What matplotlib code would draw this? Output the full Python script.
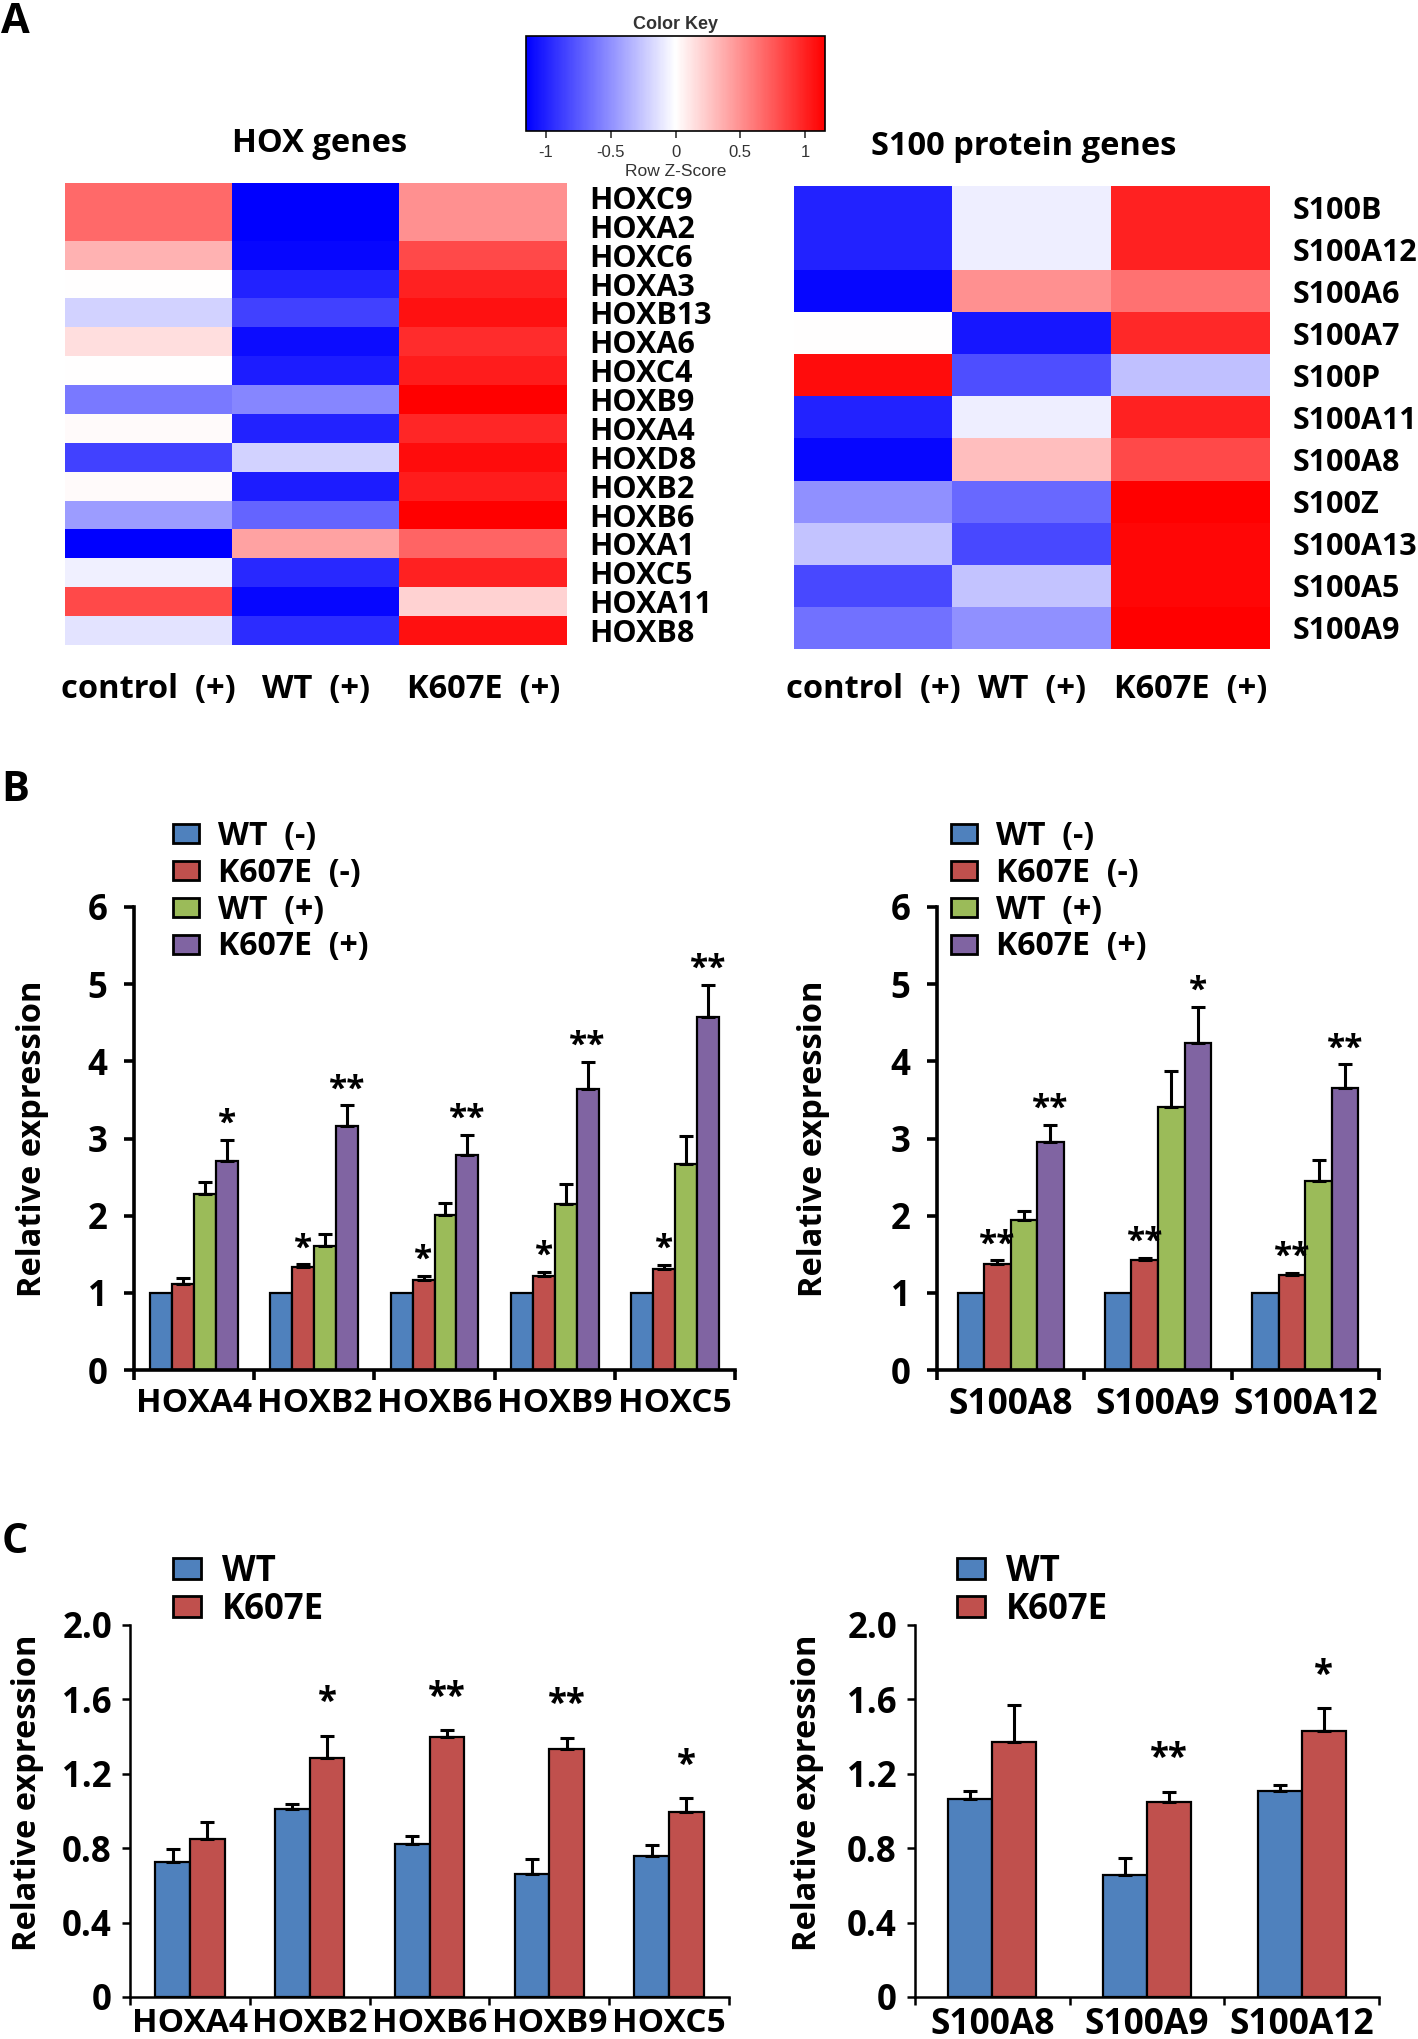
import numpy as np
import matplotlib
matplotlib.use("Agg")
import matplotlib.pyplot as plt
from matplotlib.colors import LinearSegmentedColormap, Normalize
from matplotlib.cm import ScalarMappable
from matplotlib.patches import Patch

W, H = 1418, 2039
plt.rcParams['font.family'] = ['Open Sans', 'DejaVu Sans']
plt.rcParams['font.weight'] = 'bold'
plt.rcParams['axes.labelweight'] = 'bold'

# ---------------- data: heatmaps (row z-scores) ----------------
hm_columns = ['control  (+)', 'WT  (+)', 'K607E  (+)']
hox_genes = ['HOXC9', 'HOXA2', 'HOXC6', 'HOXA3', 'HOXB13', 'HOXA6', 'HOXC4', 'HOXB9',
             'HOXA4', 'HOXD8', 'HOXB2', 'HOXB6', 'HOXA1', 'HOXC5', 'HOXA11', 'HOXB8']
hox_control = [0.67, 0.67, 0.35, 0.00, -0.20, 0.15, 0.00, -0.60, 0.02, -0.85, 0.02, -0.45, -1.15, -0.07, 0.82, -0.12]
hox_wt = [-1.15, -1.15, -1.12, -1.00, -0.85, -1.10, -1.02, -0.55, -1.00, -0.20, -1.02, -0.70, 0.42, -0.97, -1.12, -0.95]
hox_k607e = [0.50, 0.50, 0.82, 1.00, 1.07, 0.95, 1.02, 1.15, 0.98, 1.10, 1.02, 1.15, 0.70, 1.00, 0.20, 1.08]

s100_genes = ['S100B', 'S100A12', 'S100A6', 'S100A7', 'S100P', 'S100A11', 'S100A8', 'S100Z',
              'S100A13', 'S100A5', 'S100A9']
s100_control = [-1.00, -1.00, -1.12, 0.00, 1.10, -1.00, -1.12, -0.50, -0.27, -0.83, -0.64]
s100_wt = [-0.08, -0.08, 0.50, -1.05, -0.80, -0.08, 0.29, -0.68, -0.83, -0.27, -0.50]
s100_k607e = [1.00, 1.00, 0.64, 0.97, -0.28, 1.00, 0.82, 1.15, 1.12, 1.12, 1.15]

key_ticks = [-1, -0.5, 0, 0.5, 1]
key_ticklabels = ['-1', '-0.5', '0', '0.5', '1']

# ---------------- data: panel B ----------------
b_series = ['WT  (-)', 'K607E  (-)', 'WT  (+)', 'K607E  (+)']
b_colors = ['#4F81BD', '#C0504D', '#9BBB59', '#8064A2']

b_hox_genes = ['HOXA4', 'HOXB2', 'HOXB6', 'HOXB9', 'HOXC5']
b_hox_wt_minus = [1.00, 1.00, 1.00, 1.00, 1.00]
b_hox_k_minus = [1.12, 1.34, 1.16, 1.22, 1.31]
b_hox_wt_plus = [2.28, 1.61, 2.01, 2.15, 2.67]
b_hox_k_plus = [2.71, 3.16, 2.79, 3.64, 4.58]
b_hox_k_minus_err = [0.07, 0.03, 0.06, 0.05, 0.05]
b_hox_wt_plus_err = [0.15, 0.15, 0.15, 0.26, 0.36]
b_hox_k_plus_err = [0.27, 0.27, 0.26, 0.35, 0.41]
b_hox_k_minus_sig = ['', '*', '*', '*', '*']
b_hox_k_plus_sig = ['*', '**', '**', '**', '**']

b_s100_genes = ['S100A8', 'S100A9', 'S100A12']
b_s100_wt_minus = [1.00, 1.00, 1.00]
b_s100_k_minus = [1.38, 1.42, 1.23]
b_s100_wt_plus = [1.95, 3.41, 2.45]
b_s100_k_plus = [2.96, 4.24, 3.66]
b_s100_k_minus_err = [0.04, 0.03, 0.03]
b_s100_wt_plus_err = [0.11, 0.47, 0.27]
b_s100_k_plus_err = [0.22, 0.47, 0.30]
b_s100_k_minus_sig = ['**', '**', '**']
b_s100_k_plus_sig = ['**', '*', '**']

b_yticks = [0, 1, 2, 3, 4, 5, 6]
b_yticklabels = ['0', '1', '2', '3', '4', '5', '6']

# ---------------- data: panel C ----------------
c_series = ['WT', 'K607E']
c_colors = ['#4F81BD', '#C0504D']
c_hox_genes = ['HOXA4', 'HOXB2', 'HOXB6', 'HOXB9', 'HOXC5']
c_hox_wt = [0.726, 1.012, 0.821, 0.659, 0.758]
c_hox_wt_err = [0.068, 0.026, 0.045, 0.081, 0.057]
c_hox_k = [0.851, 1.287, 1.398, 1.332, 0.996]
c_hox_k_err = [0.090, 0.116, 0.037, 0.062, 0.072]
c_hox_sig = ['', '*', '**', '**', '*']

c_s100_genes = ['S100A8', 'S100A9', 'S100A12']
c_s100_wt = [1.065, 0.655, 1.110]
c_s100_wt_err = [0.045, 0.090, 0.032]
c_s100_k = [1.373, 1.047, 1.429]
c_s100_k_err = [0.198, 0.057, 0.124]
c_s100_sig = ['', '**', '*']

c_yticks = [0, 0.4, 0.8, 1.2, 1.6, 2.0]
c_yticklabels = ['0', '0.4', '0.8', '1.2', '1.6', '2.0']

# ---------------- helpers ----------------
fig = plt.figure(figsize=(W / 100, H / 100), dpi=100)


def px_axes(x0, y0, x1, y1):
    return fig.add_axes([x0 / W, 1 - y1 / H, (x1 - x0) / W, (y1 - y0) / H])


cmap = LinearSegmentedColormap.from_list('bluered', ['#0000FF', '#FFFFFF', '#FF0000'])
norm = Normalize(vmin=-1.155, vmax=1.155)


def heatmap(rect, genes, cols, title, title_x, xpad):
    ax = px_axes(*rect)
    mat = np.column_stack(cols)
    ax.imshow(mat, cmap=cmap, norm=norm, aspect='auto', interpolation='nearest')
    ax.yaxis.tick_right()
    ax.set_yticks(np.arange(len(genes)))
    ax.set_yticklabels(genes, fontsize=22, fontweight='bold')
    ax.set_xticks(np.arange(len(hm_columns)))
    ax.set_xticklabels(hm_columns, fontsize=23.5, fontweight='bold')
    ax.tick_params(axis='y', length=0, pad=16)
    ax.tick_params(axis='x', length=0, pad=xpad)
    for s in ax.spines.values():
        s.set_visible(False)
    x0, _, x1, _ = rect
    ax.set_title(title, fontsize=23.5, fontweight='bold', pad=22, x=(title_x - x0) / (x1 - x0))
    return ax


def style_bar_axes(ax, cats, ymax, yticks, ytl, lw, rect, ylab_x, ylab_y, ypad, xpad, tick_len, xfs):
    n = len(cats)
    ax.set_xlim(0, n)
    ax.set_ylim(0, ymax)
    for s in ['top', 'right']:
        ax.spines[s].set_visible(False)
    for s in ['left', 'bottom']:
        ax.spines[s].set_linewidth(lw)
    ax.set_xticks(np.arange(n + 1))
    ax.set_xticklabels([''] * (n + 1))
    ax.set_xticks(np.arange(n) + 0.5, minor=True)
    ax.set_xticklabels(cats, minor=True, fontsize=xfs, fontweight='bold')
    ax.tick_params(axis='x', which='major', direction='out', length=tick_len, width=lw)
    ax.tick_params(axis='x', which='minor', length=0, pad=xpad)
    ax.set_yticks(yticks)
    ax.set_yticklabels(ytl, fontsize=25, fontweight='bold')
    ax.tick_params(axis='y', direction='out', length=tick_len, width=lw, pad=ypad)
    ax.set_ylabel('Relative expression', fontsize=23.5, fontweight='bold')
    x0, y0, x1, y1 = rect
    ax.yaxis.set_label_coords((ylab_x - x0) / (x1 - x0), ylab_y)
    ax.yaxis.label.set_verticalalignment('center')


def draw_bars(ax, series, errs, colors, width, lw):
    n = len(series)
    offsets = (np.arange(n) - (n - 1) / 2) * width
    tops = []
    for i, (vals, err, col) in enumerate(zip(series, errs, colors)):
        x = np.arange(len(vals)) + 0.5 + offsets[i]
        ax.bar(x, vals, width=width, color=col, edgecolor='black', linewidth=lw, zorder=2)
        if err is not None:
            ax.errorbar(x, vals, yerr=[np.zeros(len(vals)), err], fmt='none', ecolor='black',
                        elinewidth=2.2, capsize=5, capthick=2.2, zorder=3)
            tops.append((x, np.array(vals) + np.array(err)))
        else:
            tops.append((x, np.array(vals)))
    return tops


def stars(ax, x, top, sig, off, fs):
    for xi, t, s in zip(x, top, sig):
        if s:
            ax.annotate(s, xy=(xi, t), xytext=(0, off), textcoords='offset points',
                        ha='center', va='baseline', fontsize=fs, fontweight='bold')


def legend(labels, colors, x, y, fs, spacing):
    handles = [Patch(facecolor=c, edgecolor='black', linewidth=2) for c in colors]
    fig.legend(handles, labels, loc='upper left', bbox_to_anchor=(x / W, 1 - y / H),
               bbox_transform=fig.transFigure, frameon=False,
               handlelength=0.8, handleheight=0.55, handletextpad=0.6,
               labelspacing=spacing, borderpad=0, borderaxespad=0,
               prop={'weight': 'bold', 'size': fs})


# ---------------- panel A ----------------
fig.text(0.001, 1 - 2 / H, 'A', fontsize=30, fontweight='bold', ha='left', va='top')

heatmap((65, 183, 567, 645), hox_genes, [hox_control, hox_wt, hox_k607e], 'HOX genes', 320, 20)
heatmap((794, 186, 1270, 649), s100_genes, [s100_control, s100_wt, s100_k607e], 'S100 protein genes', 1024, 17)

kax = px_axes(526, 36, 825, 131)
cb = fig.colorbar(ScalarMappable(norm=norm, cmap=cmap), cax=kax, orientation='horizontal')
cb.set_ticks(key_ticks)
cb.set_ticklabels(key_ticklabels)
cb.ax.tick_params(labelsize=12, length=5, width=1.2, colors='#333333', pad=5)
for t in cb.ax.get_xticklabels():
    t.set_fontfamily(['Liberation Sans', 'DejaVu Sans'])
    t.set_fontweight('normal')
cb.outline.set_linewidth(1.2)
cb.set_label('Row Z-Score', fontsize=12.5, fontweight='normal', color='#333333', labelpad=3,
             family=['Liberation Sans', 'DejaVu Sans'])
cb.ax.set_title('Color Key', fontsize=13, fontweight='bold', color='#333333', pad=5,
                family=['Liberation Sans', 'DejaVu Sans'])

# ---------------- panel B ----------------
fig.text(0.001, 1 - 770 / H, 'B', fontsize=30, fontweight='bold', ha='left', va='top')

rect = (134, 907, 735, 1370)
ax = px_axes(*rect)
style_bar_axes(ax, b_hox_genes, 6, b_yticks, b_yticklabels, 2.6, rect, 33, 0.5, 12, 12, 7, 24)
tops = draw_bars(ax, [b_hox_wt_minus, b_hox_k_minus, b_hox_wt_plus, b_hox_k_plus],
                 [None, b_hox_k_minus_err, b_hox_wt_plus_err, b_hox_k_plus_err], b_colors, 0.183, 1.6)
stars(ax, tops[1][0], tops[1][1], b_hox_k_minus_sig, 5, 24)
stars(ax, tops[3][0], tops[3][1], b_hox_k_plus_sig, 5, 24)
legend(b_series, b_colors, 173, 820, 23, 0.12)

rect = (937, 907, 1379, 1370)
ax = px_axes(*rect)
style_bar_axes(ax, b_s100_genes, 6, b_yticks, b_yticklabels, 2.6, rect, 814, 0.5, 12, 12, 7, 25.5)
tops = draw_bars(ax, [b_s100_wt_minus, b_s100_k_minus, b_s100_wt_plus, b_s100_k_plus],
                 [None, b_s100_k_minus_err, b_s100_wt_plus_err, b_s100_k_plus_err], b_colors, 0.18, 1.6)
stars(ax, tops[1][0], tops[1][1], b_s100_k_minus_sig, 5, 24)
stars(ax, tops[3][0], tops[3][1], b_s100_k_plus_sig, 5, 24)
legend(b_series, b_colors, 951, 820, 23, 0.12)

# ---------------- panel C ----------------
fig.text(0.001, 1 - 1522 / H, 'C', fontsize=30, fontweight='bold', ha='left', va='top')

rect = (130, 1625, 729, 1997)
ax = px_axes(*rect)
style_bar_axes(ax, c_hox_genes, 2.0, c_yticks, c_yticklabels, 1.8, rect, 28, 0.55, 7, 7, 6, 24)
tops = draw_bars(ax, [c_hox_wt, c_hox_k], [c_hox_wt_err, c_hox_k_err], c_colors, 0.29, 1.6)
stars(ax, tops[1][0], tops[1][1], c_hox_sig, 17, 25)
legend(c_series, c_colors, 173, 1554, 25, 0.05)

rect = (915, 1625, 1379, 1997)
ax = px_axes(*rect)
style_bar_axes(ax, c_s100_genes, 2.0, c_yticks, c_yticklabels, 1.8, rect, 808, 0.55, 7, 7, 6, 25.5)
tops = draw_bars(ax, [c_s100_wt, c_s100_k], [c_s100_wt_err, c_s100_k_err], c_colors, 0.285, 1.6)
stars(ax, tops[1][0], tops[1][1], c_s100_sig, 17, 25)
legend(c_series, c_colors, 957, 1554, 25, 0.05)

fig.savefig('out.png', dpi=100)
